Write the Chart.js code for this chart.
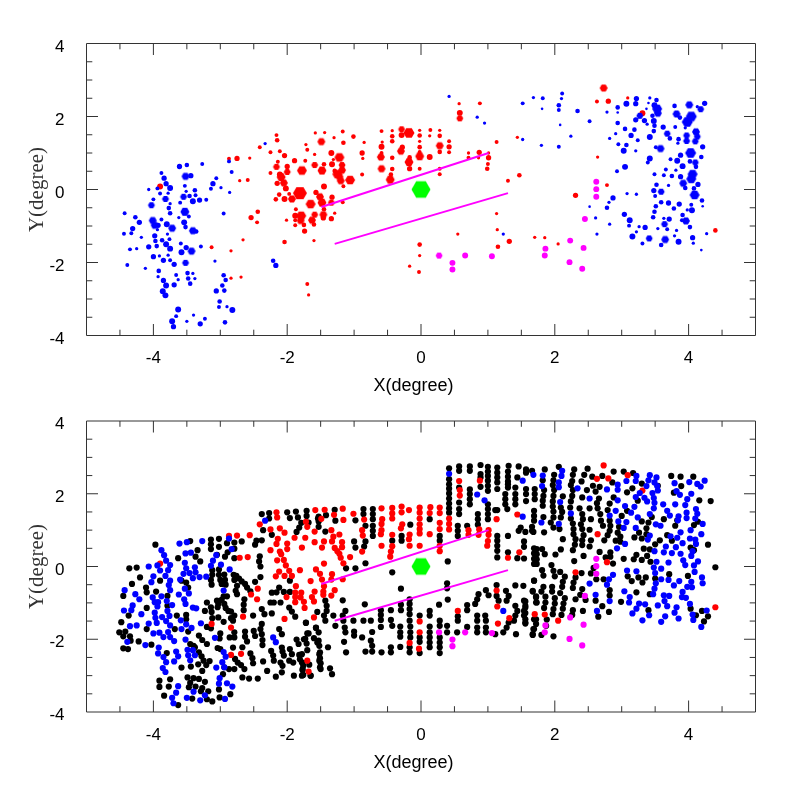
<!DOCTYPE html>
<html lang="en">
  <head>
    <meta charset="UTF-8" />
    <title>X-Y degree maps</title>
    <style>
      body { margin: 0; background: #fff; }
      canvas { position: absolute; left: 0; }
    </style>
  </head>
  <body>
    <canvas id="topChart" width="797" height="400" style="top:0"></canvas>
    <canvas id="bottomChart" width="797" height="397" style="top:400px"></canvas>
    <script src="https://cdn.jsdelivr.net/npm/chart.js"></script>
    <script>
      // tick values
      const labelTicks = [-4, -2, 0, 2, 4];
      const minorTicksX = [-4.5, -3.5, -3, -2.5, -1.5, -1, -0.5, 0.5, 1, 1.5, 2.5, 3, 3.5, 4.5];
      const minorTicksY = [-3.5, -3, -2.5, -1.5, -1, -0.5, 0.5, 1, 1.5, 2.5, 3, 3.5];

      // [x, y, weight]
      const bluePts = [[-3.61,0.63,7],[-3.5,0.67,6],[-3.27,0.7,5],[-3.88,0.45,5],[-3.84,0.31,7],[-3.52,0.36,10],[-3.44,0.38,7],[-3.06,0.31,5],[-3.11,0.16,7],[-2.83,0.48,5],[-2.87,0.77,5],[-3.81,0.16,7],[-3.75,0.04,8],[-4.07,0,4],[-3.94,0.03,5],[-3.53,0.1,5],[-3.51,-0.05,4],[-3.38,-0.02,6],[-3.14,0.02,5],[-2.99,0.05,4],[-2.86,-0.08,4],[-3.9,-0.11,5],[-3.78,-0.1,4],[-3.82,-0.26,9],[-3.55,-0.2,9],[-3.46,-0.18,6],[-3.37,-0.16,5],[-4,-0.27,5],[-3.6,-0.36,5],[-3.41,-0.32,8],[-3.31,-0.29,7],[-3.21,-0.28,5],[-3.75,-0.39,4],[-4.03,-0.43,9],[-3.77,-0.51,6],[-3.75,-0.65,6],[-4.43,-0.65,5],[-3.53,-0.61,12],[-2.95,-0.66,5],[-3.62,-0.77,4],[-3.47,-0.74,5],[-4.27,-0.76,6],[-3.88,-0.82,5],[-4.01,-0.85,10],[-4.21,-0.9,7],[-3.54,-0.9,8],[-3.8,-0.95,8],[-3.98,-0.98,10],[-3.93,-0.98,7],[-3.72,-1.06,10],[-3.52,-1.03,6],[-4.31,-1.07,7],[-3.94,-1.1,4],[-3.41,-1.13,11],[-3.36,-1.15,6],[-4.44,-1.21,5],[-4.33,-1.2,5],[-3.79,-1.22,4],[-3.98,-1.27,7],[-4.18,-1.31,4],[-3.76,-1.36,5],[-3.87,-1.39,6],[-3.97,-1.41,6],[-3.59,-1.48,5],[-3.81,-1.5,8],[-4.07,-1.57,7],[-3.95,-1.55,6],[-3.29,-1.56,5],[-3.75,-1.62,8],[-3.51,-1.59,7],[-4.35,-1.64,5],[-4.25,-1.62,4],[-3.58,-1.72,8],[-3.43,-1.69,10],[-4,-1.84,7],[-3.91,-1.82,4],[-3.78,-1.8,4],[-3.85,-1.94,7],[-3.75,-1.94,5],[-3.08,-1.96,4],[-3.52,-2.01,9],[-3.69,-2.05,7],[-4.39,-2.07,5],[-4.12,-2.16,4],[-2.21,-1.95,6],[-2.17,-2.08,7],[-3.92,-2.23,6],[-3.49,-2.29,6],[-3.41,-2.3,4],[-3.66,-2.34,5],[-3.93,-2.39,4],[-2.95,-2.35,6],[-3.38,-2.44,4],[-3.48,-2.44,6],[-3.63,-2.47,4],[-3.85,-2.49,7],[-2.92,-2.48,6],[-3.45,-2.58,6],[-3.69,-2.61,7],[-3.81,-2.63,8],[-2.97,-2.63,6],[-3.86,-2.79,8],[-3.06,-2.78,7],[-2.94,-2.77,6],[-3.82,-2.9,8],[-3.01,-3.07,6],[-3.02,-3.22,5],[-2.9,-3.21,4],[-3.63,-3.29,8],[-2.82,-3.3,8],[-3.4,-3.44,4],[-3.66,-3.47,5],[-3.23,-3.54,5],[-3.72,-3.61,8],[-3.5,-3.61,4],[-2.93,-3.64,6],[-3.3,-3.68,7],[-3.7,-3.76,7],[-2.33,1.26,4],
        [0.42,2.55,4],[0.84,1.98,4],[0.95,1.82,4],[1.23,-1.22,4],[1.52,2.36,5],[1.68,2.52,4],[1.52,1.37,4],
        [1.82,2.5,5],[2.11,2.63,5],[2.1,2.49,4],[2.06,2.31,6],[1.81,2.21,3],[2.06,2.18,5],[2.34,2.15,6],[2.52,1.87,5],[2.08,1.77,3],[2.24,1.46,4],[1.8,1.21,4],[2.06,1.17,5],[2.78,2.12,4],[2.94,2.25,6],[2.94,2.11,3],[3.07,2.35,8],[3.21,2.35,7],[3.22,2.49,7],[3.42,2.51,4],[3.4,2.37,3],[3.37,2.21,3],[3.52,2.45,6],[3.49,2.31,8],[3.53,2.21,13],[3.54,2.09,11],[3.46,2.02,6],[3.79,2.29,6],[4.01,2.32,11],[4.24,2.36,7],[4.13,2.27,4],[4.18,2.2,9],[3.82,2.07,11],[3.87,1.97,6],[4.04,2,15],[3.98,1.85,15],[3.27,2.02,9],[3.21,1.91,7],[3.34,1.89,7],[3.48,1.88,8],[2.94,1.82,6],[3.38,1.79,4],[3.49,1.75,6],[3.62,1.71,7],[3.8,1.71,5],[3.95,1.69,4],[3.05,1.66,6],[3.19,1.64,6],[3.48,1.6,6],[4.11,1.58,11],[2.91,1.53,4],[3.68,1.53,9],[3.14,1.48,7],[3.42,1.44,8],[3.97,1.48,9],[4.13,1.45,9],[3.72,1.4,6],[2.82,1.4,4],[3.85,1.38,6],[3.24,1.35,5],[3.97,1.33,9],[4.1,1.32,9],[3.84,1.27,4],[2.95,1.24,5],[3.07,1.22,6],[4.21,1.17,7],[3.51,1.16,5],[3.58,1.12,10],[3.03,1.06,8],[3.21,1.06,4],[4.03,1,15],[3.88,0.94,7],[4.19,0.89,6],[3.42,0.85,8],[3.73,0.83,5],[3.83,0.79,8],[4.02,0.77,6],[3.39,0.74,5],[4.1,0.74,9],[4.11,0.62,6],[3.91,0.64,8],[3.05,0.62,8],[3.66,0.55,5],[3.81,0.53,4],[2.93,0.5,5],[4.06,0.42,14],[3.49,0.42,5],[3.63,0.39,5],[3.75,0.37,6],[3.88,0.35,7],[4.04,0.29,14],[3.92,0.17,11],[4.14,0.14,7],[3.7,0.11,4],[3.52,0.13,6],[3.95,0.04,6],[4.08,0.03,6],[3.48,-0.03,7],[3.59,-0.06,9],[3.08,-0.11,4],[3.22,-0.13,4],[3.5,-0.18,5],[4.09,-0.15,13],[2.87,-0.23,7],[2.81,-0.35,4],[4.2,-0.3,6],[3.59,-0.35,6],[3.7,-0.37,7],[3.86,-0.4,7],[4.04,-0.42,5],[3.51,-0.46,6],[4.21,-0.46,3],[2.52,-0.47,3],[2.78,-0.5,6],[3.78,-0.52,6],[3.98,-0.56,4],[4.05,-0.57,8],[3.49,-0.61,6],[3.04,-0.68,7],[3.91,-0.7,6],[3.47,-0.76,6],[2.61,-0.78,4],[3.63,-0.79,4],[3.71,-0.81,7],[3.12,-0.84,8],[3.9,-0.84,5],[3.96,-0.86,10],[3.64,-0.95,9],[2.82,-0.95,4],[3.11,-0.99,5],[3.26,-1.02,4],[3.35,-1.04,7],[4.02,-1.03,6],[3.54,-1.07,4],[3.68,-1.09,5],[3.82,-1.12,4],[3.22,-1.16,4],[2.63,-1.22,4],[4.27,-1.21,4],[3.79,-1.27,4],[3.16,-1.29,8],[3.41,-1.34,9],[3.65,-1.37,11],[4.06,-1.32,7],[3.85,-1.43,8],[3.31,-1.48,5],[4.07,-1.47,4],[3.59,-1.52,6],[4.19,-1.66,3]];

      const redPts = [[-3.9,0.08,8],[-2.87,0.84,5],[-2.75,0.85,7],[-2.56,0.86,4],[-2.41,1.16,5],[-2.16,1.49,5],[-2.15,1.35,6],[-2.25,1.02,5],[-2.11,1.05,5],[-2.04,0.93,7],[-2.14,0.76,5],[-1.89,0.79,7],[-1.73,0.79,5],[-1.58,1.55,4],[-1.72,1.23,4],[-1.7,1.09,5],[-1.59,0.96,4],[-1.49,1.31,11],[-2.16,0.62,9],[-2,0.63,7],[-1.78,0.52,14],[-1.59,0.67,9],[-1.48,0.52,12],[-2,0.48,9],[-2.25,0.45,5],[-2.11,0.41,8],[-2.09,0.34,12],[-2.15,0.17,7],[-2.05,0.18,10],[-2.02,0.03,8],[-2.71,0.24,4],[-2.59,0.26,5],[-1.81,-0.1,19],[-1.57,-0.08,7],[-2.12,-0.14,6],[-1.97,-0.12,5],[-2.17,-0.27,6],[-2.04,-0.26,8],[-1.93,-0.26,10],[-1.65,-0.4,13],[-1.87,-0.54,5],[-2.44,-0.61,6],[-2.54,-0.77,7],[-2.45,-0.9,5],[-1.88,-0.72,8],[-1.79,-0.72,14],[-1.59,-0.69,9],[-2.01,-0.84,4],[-1.88,-0.84,5],[-1.8,-0.85,10],[-1.63,-0.84,10],[-1.88,-0.98,5],[-1.75,-0.97,6],[-1.6,-0.96,6],[-1.74,-1.14,7],[-2.66,-1.38,4],[-2.04,-1.44,6],[-1.6,-1.4,4],[-3.13,-1.58,5],[-2.84,-1.68,4],[-2.84,-2.43,4],[-2.69,-2.4,4],[-1.7,-2.59,5],[-1.68,-2.89,4],
        [-1.44,1.56,4],[-1.17,1.59,5],[-1.3,1.42,4],[-1.01,1.45,6],[-1.16,1.28,6],[-0.85,1.29,4],[-1.34,1,8],[-0.88,1,7],[-0.87,0.85,4],[-1.22,0.88,13],[-1.31,0.82,4],[-1.45,0.69,6],[-1.33,0.69,8],[-1.18,0.67,9],[-1.18,0.53,10],[-1.29,0.51,6],[-1.25,0.42,14],[-1.22,0.35,10],[-1.2,0.24,10],[-1.06,0.26,13],[-0.88,0.41,5],[-1.16,0.09,5],[-1.45,0.08,8],[-1.51,-0.2,11],[-1.48,-0.36,12],[-1.33,-0.21,7],[-1.34,-0.36,9],[-1.17,-0.35,5],[-1.45,-0.54,6],[-1.29,-0.65,4],[-1.46,-0.69,11],[-1.46,-0.78,7],[-1.34,-0.8,7],
        [-0.59,1.6,5],[-0.43,1.61,4],[-0.29,1.65,9],[-0.18,1.55,15],[-0.02,1.62,4],[0.14,1.63,5],[0.28,1.62,4],[-0.43,1.46,6],[-0.29,1.49,8],[-0.02,1.48,6],[0.13,1.47,4],[0.28,1.47,6],[-0.58,1.3,4],[-0.43,1.32,6],[-0.02,1.32,4],[0.42,1.32,5],[-0.59,1.17,8],[-0.28,1.16,7],[-0.3,1.05,10],[-0.02,1.16,6],[0.28,1.2,10],[0.42,1.17,7],[-0.02,1.03,5],[0.28,1.03,6],[0.42,1.02,5],[-0.6,0.89,11],[-0.59,1,5],[-0.43,0.87,6],[-0.17,0.88,6],[-0.02,0.91,12],[0.13,0.89,8],[-0.18,0.75,12],[-0.59,0.57,11],[-0.43,0.56,6],[-0.17,0.57,7],[-0.02,0.57,5],[0.28,0.57,5],[0.28,0.42,5],[-0.45,0.41,6],[-0.46,0.27,12],
        [0.57,2.35,4],[0.88,2.36,5],[0.58,2.1,8],[0.58,1.95,9],[1.44,1.43,4],[1.13,1.3,5],[0.71,1,4],[0.87,1.02,7],[1.01,1,4],[0.71,0.87,5],[0.86,0.87,4],[1.01,0.87,7],[1,0.7,5],[0.99,0.57,6],[1.47,0.39,6],[1.3,0.24,5],[1.13,-0.66,4],[1.14,-1.1,4],[0.55,-1.22,4],[1.32,-1.42,7],[1.15,-1.57,6],[1.7,-1.31,4],[-0.02,-1.51,6],[-0.02,-1.81,4],[-0.17,-2.1,4],[-0.03,-2.26,5],
        [2.73,2.78,10],[2.63,2.41,5],[2.8,2.42,7],[3.09,2.51,4],[3.31,2.09,8],[2.64,0.89,4],[2.78,0.12,5],[2.31,-0.16,7],[1.85,-1.32,4],[2.05,-1.49,4],[4.4,-1.12,6]];

      const magentaPts = [[0.27,-1.81,9],[0.47,-2.01,8],[0.47,-2.19,8],[0.66,-1.81,8],[1.06,-1.83,8],[2.62,0.21,8],[2.62,0.01,8],[2.62,-0.2,8],[2.45,-0.81,8],[2.23,-1.4,8],[2.43,-1.6,8],[1.86,-1.62,8],[1.85,-1.81,8],[2.22,-1.99,8],[2.41,-2.17,8]];

      // [x, y], lower panel only
      const blackPts = [[-2.38,1.44],[-2.27,1.47],[-2.27,1.32],[-2,1.49],[-1.87,1.51],[-1.71,1.53],[-1.71,1.39],[-1.96,1.33],[-1.84,1.35],[-1.54,1.32],[-1.79,1.2],[-1.82,1.07],[-1.86,0.95],[-2.36,1],[-2.23,0.87],[-1.68,1.21],[-2.38,0.72],[-2.46,0.71],[-2.48,0.6],[-2.68,0.69],[-2.79,0.66],[-2.9,0.64],[-3.02,0.76],[-3.14,0.74],[-3.14,0.61],[-3.45,0.7],[-3.97,0.6],[-3.34,0.45],[-3.02,0.54],[-3.14,0.48],[-2.79,0.49],[-3.37,0.27],[-3.63,0.23],[-3.3,0.14],[-3.05,0.32],[-2.93,0.27],[-2.79,0.23],[-2.89,0.39],[-2.41,0.28],[-2.42,0.14],[-2.4,0],[-3.12,-0.1],[-3.02,-0.08],[-3.12,-0.23],[-3.02,-0.23],[-3.14,-0.37],[-3,-0.37],[-3.13,-0.5],[-2.93,-0.37],[-2.92,-0.5],[-2.98,-0.48],[-2.94,-0.22],[-2.8,-0.23],[-2.76,-0.26],[-2.72,-0.33],[-2.68,-0.41],[-2.79,-0.37],[-2.75,-0.53],[-2.63,-0.48],[-2.6,-0.58],[-2.55,-0.68],[-2.48,-0.42],[-2.4,-0.29],[-2.77,-0.67],[-2.75,-0.76],[-2.64,-0.9],[-2.65,-1.05],[-2.65,-1.2],[-2.95,-0.82],[-2.98,-0.92],[-2.9,-0.82],[-3.2,-0.99],[-3.05,-0.94],[-2.94,-1.03],[-3.03,-1.03],[-3.14,-1.12],[-3.04,-1.12],[-2.92,-1.14],[-2.88,-1.22],[-3.13,-1.25],[-3.03,-1.4],[-3.12,-1.42],[-2.84,-1.24],[-2.79,-1.35],[-2.84,-1.42],[-2.95,-1.52],[-2.81,-1.49],[-2.51,-1.35],[-2.38,-1.17],[-2.34,-1.31],[-2.23,-1.29],[-2.38,-1.58],[-2.4,-1.72],[-2.38,-1.86],[-2.37,-2.02],[-2.37,-2.16],[-2.5,-1.77],[-2.48,-1.91],[-2.63,-1.79],[-2.63,-1.93],[-2.6,-2.06],[-2.79,-1.81],[-2.79,-1.95],[-2.86,-1.95],[-3,-1.84],[-3.01,-1.98],[-3.2,-1.66],[-3.14,-1.7],[-3.32,-1.9],[-3.27,-2.02],[-3.2,-2.13],[-3.4,-2.18],[-3.45,-2.13],[-3.38,-2.22],[-3.32,-2.36],[-3.28,-2.47],[-3.25,-2.59],[-3.33,-2.69],[-3.16,-2.6],[-3.21,-2.71],[-3.27,-2.87],[-3.44,-2.75],[-3.58,-2.78],[-3.04,-2.24],[-3,-2.27],[-2.81,-2.23],[-2.67,-2.22],[-2.55,-2.39],[-2.52,-2.52],[-2.78,-2.54],[-2.74,-2.64],[-2.69,-2.71],[-2.64,-2.82],[-2.79,-2.82],[-2.87,-2.82],[-2.96,-2.96],[-2.94,-2.77],[-2.67,-3.05],[-2.57,-3.08],[-2.44,-3.08],[-2.36,-2.61],[-2.51,-2.66],[-2.24,-2.32],[-2.21,-2.45],[-2.2,-2.59],[-2.1,-2.64],[-2.07,-2.73],[-2.3,-2.87],[-2.08,-2.91],[-2.17,-3.03],[-2.08,-2.23],[-2.07,-2.34],[-2.05,-2.45],[-1.96,-2.27],[-1.93,-2.41],[-1.97,-2.59],[-1.91,-2.64],[-1.86,-2.01],[-1.83,-2.13],[-1.75,-2],[-1.71,-2.12],[-1.68,-1.84],[-1.57,-1.68],[-1.82,-2.43],[-1.81,-2.55],[-1.78,-2.64],[-1.76,-2.73],[-1.77,-2.85],[-1.65,-3],[-1.9,-3],[-1.78,-3],[-1.53,-2.04],[-1.52,-2.18],[-1.52,-2.41],[-1.52,-2.59],[-1.51,-2.77],[-2.12,-0.58],[-2.05,-0.7],[-2.16,-0.71],[-2.23,-0.72],[-1.96,-0.7],[-1.96,-0.39],[-1.97,-1.13],[-1.93,-1.24],[-2.25,-0.99],[-2.2,-0.99],[-2.1,-0.99],[-1.88,-1.38],[-1.72,-1.54],[-2.12,-1.72],[-2.08,-1.86],[-4.36,-0.05],[-4.25,-0.03],[-4.2,-0.3],[-4.32,-0.48],[-4.11,-0.58],[-4.1,-0.71],[-4.45,-0.81],[-3.96,-0.69],[-3.79,-0.81],[-4.1,-1.14],[-4.37,-1.35],[-4.48,-1.53],[-4.42,-1.79],[-4.51,-1.81],[-4.45,-1.92],[-4.35,-1.92],[-4.34,-2.04],[-4.22,-2.06],[-4.45,-2.25],[-4.38,-2.27],[-4.1,-1.72],[-4.03,-2.15],[-3.9,-0.39],[-3.79,-1.08],[-3.65,-1.35],[-3.51,-1.33],[-3.51,-1.45],[-3.68,-1.72],[-3.48,-1.79],[-3.58,-0.39],[-3.51,-0.44],[-3.48,-0.58],[-3.23,-1.22],[-3.8,-2.38],[-3.91,-3.14],[-3.91,-3.31],[-3.77,-3.3],[-3.84,-3.55],[-3.75,-3.1],[-3.49,-3.05],[-3.4,-3.07],[-3.32,-3.09],[-3.23,-3.17],[-3.45,-3.2],[-3.47,-3.32],[-3.37,-3.3],[-3.27,-3.34],[-3.29,-3.43],[-3.18,-3.43],[-3.42,-3.63],[-3.63,-3.81],[-3.12,-3.71],[-3.2,-3.65],[-3.02,-3.38],[-2.85,-3.51],[-3.01,-3.6],
        [0.42,2.7],[0.42,2.4],[0.42,2.26],[0.42,2.14],[0.42,2.01],[0.42,1.87],[0.42,1.73],[0.42,1.6],[0.42,1.48],[0.57,2.75],[0.57,2.63],[0.57,2.17],[0.57,1.76],[0.57,1.58],[0.57,1.44],[0.73,2.75],[0.73,2.63],[0.73,2.12],[0.73,1.99],[0.73,1.85],[0.73,1.71],[0.89,2.79],[0.89,2.54],[0.89,2.45],[0.89,2.19],[1,2.74],[1,2.61],[1,2.49],[1,2.36],[1,2.22],[1,2.08],[1,1.71],[1,1.58],[1,1.44],[1,1.3],[1.14,2.72],[1.14,2.58],[1.14,2.45],[1.14,2.31],[1.14,2.13],[1.14,1.55],[1.3,2.61],[1.3,2.47],[1.3,2.34],[1.3,2.26],[1.3,2.17],[1.31,2.77],[1.46,2.75],[1.44,2.45],[1.26,1.99],[1.26,1.85],[1.26,1.71],[1.29,1.58],[1.41,2.17],[1.41,1.99],[1.41,1.85],[1.41,1.71],[1.57,2.67],[1.57,2.58],[1.57,2.13],[1.57,1.99],[1.57,1.8],[1.66,2.63],[1.7,2.13],[1.7,1.99],[1.7,1.85],[0.85,1.44],[0.85,1.3],[0.85,1.15],[1.11,1.55],[0.55,1.12],[0.55,0.98],[0.55,0.84],[0.69,1.12],[1.14,0.84],[1.14,0.71],[1.14,0.57],[1.14,0.43],[1.14,0.25],[1.3,0.84],[1.3,0.39],[1.44,0.23],[1.54,0.22],[1.54,0.69],[1.54,0.54],[1.46,0.98],[1.49,1.07],[1.56,0.95],[1.66,0.98],[1.73,0.48],[1.73,0.34],[1.73,0.2],[1.73,0.07],[0.4,0.14],[0.28,0.84],[0.28,0.71],[-0.86,1.58],[-0.72,1.58],[-0.86,1.44],[-0.72,1.44],[-0.72,1.3],[-0.83,1.12],[-0.72,1.12],[-0.72,0.98],[-0.72,0.84],[-0.98,1.27],[-1.28,1.26],[-1.29,1.56],[-1.42,1.41],[-1.53,1.37],[-1.53,1.24],[-1.53,1.09],[-1.43,0.96],[-0.16,1.15],[0.13,1.3],[-0.29,0.84],[-0.29,0.71],[-0.43,0.71],[-0.83,0.69],[-1,0.69],[-0.98,0.52],[-0.85,0.55],[-0.83,0.09],[-1.12,-0.05],[-0.98,-0.05],[-0.43,-0.16],[-0.3,-0.61],[0.39,-0.46],[0.39,-0.6],[0.4,-0.91],[0.27,-1.05],[-1.17,-0.93],[-0.84,-1.04],[-1.43,-0.94],[-1.41,-1.08],[-1.41,-1.22],[-1.43,-1.49],[-1.45,-1.35],[-1.31,-1.35],[-1.28,-1.63],[-1.17,-1.35],[-1.13,-1.22],[-1.16,-1.49],[-1.14,-1.68],[-1.13,-1.81],[-1.01,-1.49],[-0.86,-1.49],[-0.75,-1.49],[-0.6,-1.2],[-0.6,-1.33],[-0.6,-1.47],[-0.6,-1.66],[-0.45,-1.2],[-0.45,-1.47],[-0.43,-1.63],[-0.3,-1.05],[-0.3,-1.2],[-0.17,-0.9],[-0.17,-1.03],[-0.17,-1.17],[-0.17,-1.31],[-0.17,-1.49],[-0.02,-1.35],[0.13,-1.22],[0.13,-1.35],[0.28,-1.49],[0.28,-1.63],[0.39,-1.63],[0.39,-1.81],[0.54,-1.81],[0.55,-1.37],[0.55,-1.49],[0.69,-1.06],[0.69,-1.2],[0.69,-1.66],[0.84,-1.35],[0.84,-1.49],[0.84,-1.68],[0.84,-1.81],[0.96,-1.35],[0.97,-1.49],[0.97,-1.68],[0.97,-1.81],[0.86,-0.76],[0.84,-0.9],[0.81,-1.03],[0.97,-0.65],[1.01,-0.79],[1.13,-0.51],[1.13,-0.81],[1.16,-0.94],[1.27,-0.67],[1.31,-0.81],[1.28,-0.94],[1.41,-0.52],[1.53,-0.53],[1.41,-1.08],[1.44,-1.22],[1.41,-1.35],[1.39,-1.49],[1.31,-1.54],[1.28,-1.68],[1.23,-1.81],[1.11,-1.86],[1.42,-1.86],[1.54,-0.94],[1.56,-1.08],[1.54,-1.22],[1.54,-1.35],[1.56,-1.54],[1.67,-0.67],[1.69,-0.39],[1.72,-0.85],[1.73,-0.99],[1.69,-1.45],[1.67,-1.86],[1.69,-1.72],[-0.31,-1.65],[-0.31,-1.81],[-0.31,-1.93],[-0.16,-1.65],[-0.16,-1.81],[-0.16,-1.95],[-0.02,-1.95],[-0.02,-2.07],[0.13,-1.65],[0.13,-1.81],[0.13,-1.95],[0.13,-2.09],[0.13,-2.22],[0.28,-1.95],[0.28,-2.09],[0.28,-2.22],[0.28,-2.38],[-0.73,-1.8],[-0.75,-2.04],[-0.73,-2.18],[-0.73,-2.34],[-0.83,-2.34],[-0.59,-2.36],[-0.45,-2.22],[-0.45,-2.36],[-0.31,-2.21],[-0.17,-2.22],[-0.17,-2.36],[-0.02,-2.38],[-1.12,-2.36],[-1.15,-2.07],[-1,-1.79],[-1,-1.9],[-0.88,-1.95],[-1.39,-2.22],[-1.72,-1.55],[-1.7,-1.84],[-1.57,-1.69],[-1.53,-1.81],[-1.73,-1.99],[-1.6,-1.97],[-1.55,-2.09],[-1.7,-2.3],[-1.51,-2.36],[-1.51,-2.52],[-1.5,-2.66],[-1.5,-2.82],[-1.36,-2.8],[-1.33,-2.96],[-1.65,-3],[-1.67,-2.7],[-1.78,-2.41],[-1.77,-2.64],[-1.77,-2.82],[-1.76,-2.98],[-1.55,-1.25],
        [1.85,2.67],[2.06,2.74],[2.29,2.67],[2.49,2.69],[2.88,2.61],[3.03,2.61],[3.17,2.57],[3.74,2.49],[3.88,2.47],[4.07,2.47],[1.99,2.52],[2.27,2.52],[2.44,2.52],[2.56,2.47],[2.71,2.49],[1.82,2.37],[1.98,2.37],[2.26,2.35],[2.4,2.34],[2.86,2.31],[1.97,2.24],[2.24,2.24],[2.57,2.22],[2.67,2.19],[3.3,2.28],[3.54,2.22],[3.89,2.21],[1.84,2.1],[1.99,2.1],[2.27,2.1],[2.48,2.1],[2.61,2.06],[3.08,2.04],[3.16,2.15],[3.78,2.03],[1.83,1.94],[1.98,1.94],[2.12,1.93],[2.26,1.94],[2.41,1.9],[2.66,1.87],[2.88,1.9],[3.24,1.81],[4.16,1.82],[4.33,1.8],[1.82,1.81],[1.97,1.79],[2.24,1.79],[2.63,1.74],[2.82,1.73],[1.82,1.67],[1.97,1.65],[2.09,1.62],[2.23,1.62],[2.37,1.6],[2.52,1.6],[2.64,1.6],[2.79,1.55],[3.08,1.53],[1.69,1.53],[1.69,1.39],[1.69,1.26],[1.83,1.36],[1.98,1.51],[1.98,1.35],[2.11,1.5],[2.09,1.35],[2.24,1.32],[2.41,1.44],[2.42,1.3],[2.54,1.3],[2.68,1.44],[2.69,1.26],[3,1.39],[3.45,1.36],[3.63,1.3],[3.83,1.27],[1.94,1.21],[2.27,1.18],[2.39,1.16],[2.82,1.26],[3.3,1.24],[3.4,1.21],[4.08,1.14],[4.14,1.23],[1.98,1.07],[2.07,1.03],[2.28,1.03],[2.41,1.03],[2.52,1.01],[2.72,1.12],[2.83,1.12],[2.96,1.09],[3.8,1.12],[1.66,1.09],[1.68,0.95],[1.84,0.94],[2.82,0.98],[2.94,0.93],[3.26,0.93],[3.37,1.05],[2.28,0.89],[2.79,0.86],[2.43,0.86],[2.12,0.75],[2.31,0.75],[2.41,0.72],[2.54,0.72],[2.74,0.72],[2.91,0.71],[2.98,0.82],[3.19,0.8],[3.3,0.77],[3.37,0.89],[3.68,0.86],[3.75,0.71],[3.57,0.72],[3.5,0.61],[2.98,0.68],[2.3,0.6],[2.41,0.59],[2.52,0.55],[2.09,0.47],[1.81,0.48],[1.69,0.5],[1.69,0.36],[1.69,0.21],[1.69,0.07],[1.85,0.34],[2.01,0.33],[2.27,0.45],[2.67,0.4],[2.83,0.39],[3.33,0.49],[3.42,0.47],[4.29,0.6],[4.03,0.52],[4.08,0.45],[2.43,0.29],[2.76,0.25],[2.83,0.27],[3.22,0.32],[3.18,0.2],[3.03,0.21],[3.3,0.18],[3.38,0.29],[2.29,0.15],[2.87,0.08],[3.43,0.13],[1.95,0.04],[4.4,-0.02],[2.58,-0.04],[1.81,-0.1],[1.98,-0.12],[2.08,-0.15],[2.4,-0.18],[2.54,-0.19],[1.83,-0.25],[2,-0.27],[2.15,-0.28],[2.31,-0.3],[2.62,-0.35],[2.73,-0.35],[3.09,-0.27],[3.25,-0.3],[3.36,-0.3],[3.5,-0.33],[3.71,-0.21],[3.99,-0.26],[1.69,-0.39],[2.12,-0.42],[2.28,-0.44],[3.15,-0.4],[3.31,-0.44],[1.83,-0.56],[1.96,-0.56],[2.11,-0.56],[2.27,-0.59],[1.67,-0.69],[1.8,-0.69],[1.96,-0.69],[2.08,-0.73],[2.41,-0.62],[2.38,-0.78],[2.82,-0.65],[2.82,-0.8],[3.22,-0.71],[3.42,-0.76],[1.72,-0.82],[1.72,-0.99],[1.86,-0.83],[1.86,-0.99],[1.84,-1.14],[2,-0.87],[2,-1.02],[1.98,-1.17],[1.97,-1.31],[2.15,-0.87],[2.13,-1.02],[2.12,-1.16],[2.1,-1.33],[2.31,-0.9],[2.46,-0.92],[2.61,-0.94],[2.99,-0.97],[1.56,-0.96],[1.56,-1.13],[1.56,-1.28],[1.56,-1.45],[1.56,-1.57],[2.71,-1.09],[2.27,-1.2],[2.42,-1.22],[2.81,-1.25],[2.26,-1.33],[2.65,-1.38],[3.4,-1.2],[4.03,-1.16],[4.2,-1.22],[4.11,-1.34],[4.29,-1.37],[4.23,-1.51],[1.72,-1.45],[1.72,-1.58],[1.68,-1.72],[1.67,-1.88],[1.8,-1.88],[1.88,-1.46],[1.87,-1.63],[1.98,-1.92]];

      const centreX = [0];
      const centreY = [0];
      const upperLineX = [-1.49, 1.01];
      const upperLineY = [-0.48, 1.0];
      const lowerLineX = [-1.29, 1.3];
      const lowerLineY = [-1.49, -0.1];

      const sansFont = '"Liberation Sans", Arial, sans-serif';
      const serifFont = '"Liberation Serif", serif';

      // hexagon sprite, flat top like the big markers in the plot
      const hexCache = {};
      const hexagon = (color, r) => {
        const key = color + r;
        if (hexCache[key]) return hexCache[key];
        const c = document.createElement('canvas');
        c.width = c.height = Math.ceil(r) * 2 + 2;
        const g = c.getContext('2d');
        const m = c.width / 2;
        g.fillStyle = color;
        g.beginPath();
        for (let i = 0; i < 6; i++) {
          const a = (i * Math.PI) / 3;
          g.lineTo(m + r * Math.cos(a), m + r * Math.sin(a));
        }
        g.closePath();
        g.fill();
        hexCache[key] = c;
        return c;
      };

      const toWeighted = (pts) => pts.map((p) => ({ x: p[0], y: p[1], w: p[2] }));
      const toXY = (xs, ys) => xs.map((x, i) => ({ x: x, y: ys[i] }));
      const markerRadius = (w) => w / 3 + 0.3;

      const sizedSet = (pts, color) => ({
        data: toWeighted(pts),
        showLine: false,
        backgroundColor: color,
        borderWidth: 0,
        pointRadius: (c) => markerRadius(c.raw.w),
        pointStyle: (c) => (c.raw.w >= 9 ? hexagon(color, Math.round(markerRadius(c.raw.w) * 1.05 * 2) / 2) : 'circle'),
      });

      const flatSet = (pts, color) => ({
        data: toWeighted(pts),
        showLine: false,
        backgroundColor: color,
        borderWidth: 0,
        pointRadius: 3.1,
      });

      const lineSet = (xs, ys) => ({
        data: toXY(xs, ys),
        showLine: true,
        borderColor: '#ff00ff',
        borderWidth: 2,
        pointRadius: 0,
      });

      const centreSet = () => ({
        data: toXY(centreX, centreY),
        showLine: false,
        pointRadius: 9,
        pointStyle: hexagon('#00ff00', 9.5),
      });

      // inward ticks on all four sides plus the frame
      const framePlugin = {
        id: 'frame',
        afterDatasetsDraw(chart) {
          const { ctx, chartArea: a, scales } = chart;
          ctx.save();
          ctx.strokeStyle = '#333';
          ctx.lineWidth = 1;
          ctx.beginPath();
          ctx.rect(a.left, a.top, a.right - a.left, a.bottom - a.top);
          const mark = (x1, y1, x2, y2) => {
            ctx.moveTo(x1, y1);
            ctx.lineTo(x2, y2);
          };
          const markX = (v, len) => {
            const px = scales.x.getPixelForValue(v);
            mark(px, a.top, px, a.top + len);
            mark(px, a.bottom, px, a.bottom - len);
          };
          const markY = (v, len) => {
            const py = scales.y.getPixelForValue(v);
            mark(a.left, py, a.left + len, py);
            mark(a.right, py, a.right - len, py);
          };
          labelTicks.forEach((v) => {
            markX(v, 11.5);
            if (v > -4 && v < 4) markY(v, 11.5);
          });
          minorTicksX.forEach((v) => markX(v, 5.8));
          minorTicksY.forEach((v) => markY(v, 5.8));
          ctx.stroke();
          ctx.restore();
        },
      };

      const makeChart = (id, datasets, box) => {
        const canvas = document.getElementById(id);
        return new Chart(canvas.getContext('2d'), {
          type: 'scatter',
          data: { datasets: datasets },
          plugins: [framePlugin],
          options: {
            responsive: false,
            animation: false,
            layout: { padding: { top: box.top, right: 41.5, left: 0, bottom: box.pad } },
            plugins: { legend: { display: false }, tooltip: { enabled: false } },
            scales: {
              x: {
                type: 'linear',
                min: -5,
                max: 5,
                grid: { display: false },
                border: { display: false },
                afterBuildTicks: (s) => (s.ticks = labelTicks.map((v) => ({ value: v }))),
                afterFit: (s) => (s.height = box.height),
                ticks: { color: '#000', padding: 5, maxRotation: 0, autoSkip: false, font: { family: sansFont, size: 17 }, callback: (v) => v },
                // trailing spaces push the centred title left of the axis middle, as in the original
                title: { display: true, text: 'X(degree)   ', color: '#000', padding: { top: 0, bottom: 0 }, font: { family: sansFont, size: 18 } },
              },
              y: {
                min: -4,
                max: 4,
                grid: { display: false },
                border: { display: false },
                afterBuildTicks: (s) => (s.ticks = labelTicks.map((v) => ({ value: v }))),
                afterFit: (s) => (s.width = 86.5),
                // empty first line drops the number a little under its tick mark
                ticks: { color: '#000', padding: 14, autoSkip: false, font: { family: sansFont, size: 17, lineHeight: '7px' }, callback: (v) => ['', String(v)] },
                title: { display: true, text: 'Y(degree)', color: '#333', padding: { top: 25, bottom: 0 }, font: { family: serifFont, size: 21 } },
              },
            },
          },
        });
      };

      makeChart('topChart', [
        centreSet(),
        lineSet(upperLineX, upperLineY),
        lineSet(lowerLineX, lowerLineY),
        sizedSet(magentaPts, '#ff00ff'),
        sizedSet(bluePts, '#0000ff'),
        sizedSet(redPts, '#ff0000'),
      ], { top: 43.5, height: 61.5, pad: 3 });

      makeChart('bottomChart', [
        centreSet(),
        lineSet(upperLineX, upperLineY),
        lineSet(lowerLineX, lowerLineY),
        flatSet(magentaPts, '#ff00ff'),
        flatSet(bluePts, '#0000ff'),
        flatSet(redPts, '#ff0000'),
        flatSet(blackPts.map((p) => [p[0], p[1], 1]), '#000000'),
      ], { top: 20, height: 62, pad: 23 });
    </script>
  </body>
</html>
